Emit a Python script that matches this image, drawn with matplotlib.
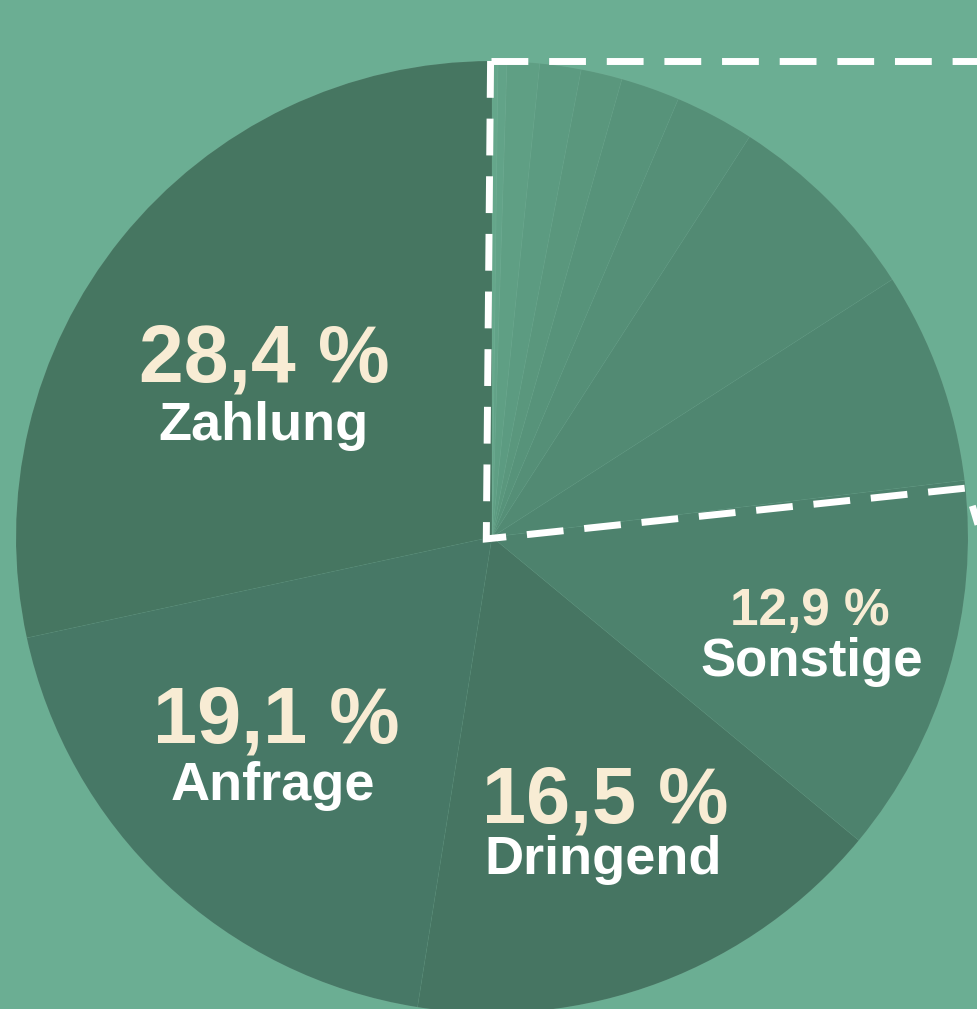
import matplotlib.pyplot as plt
import numpy as np

# Data: labelled categories (counterclockwise from 12 o'clock)
categories = ["Zahlung", "Anfrage", "Dringend", "Sonstige"]
shares = [28.4, 19.1, 16.5, 12.9]
# unlabelled small slices inside the dashed box, continuing counterclockwise
detail_shares = [7.2, 6.8, 2.7, 2.0, 1.4, 1.4, 1.1, 0.3, 0.2]

# Styling
BG = "#6bae93"
main_colors = ["#467661", "#477866", "#467562", "#4d826d"]
detail_colors = ["#4f8670", "#528a73", "#558f77", "#57937a", "#5a977d",
                 "#5c9b81", "#5f9f84", "#62a388", "#65a78b"]
NUM_COLOR = "#f8ecd4"
NAME_COLOR = "#ffffff"
FONT = ["Liberation Sans", "DejaVu Sans"]

# label layout (data units, pie radius = 1): number baseline, name baseline
label_pos = {
    "Zahlung": ((-0.479, 0.326), (-0.481, 0.203), 58, 39),
    "Anfrage": ((-0.454, -0.431), (-0.460, -0.552), 57, 39),
    "Dringend": ((0.237, -0.599), (0.233, -0.707), 57, 39),
    "Sonstige": ((0.668, -0.185), (0.672, -0.292), 37, 38),
}


def fmt_pct(v):
    return f"{v:.1f}".replace(".", ",") + " %"


def main():
    fig = plt.figure(figsize=(9.77, 10.09), dpi=100, facecolor=BG)
    ax = fig.add_axes([0, 0, 1, 1])
    ax.set_facecolor(BG)

    wedges, _ = ax.pie(
        shares + detail_shares,
        colors=main_colors + detail_colors,
        startangle=90,
        counterclock=True,
        radius=1.0,
        wedgeprops=dict(linewidth=0.6, edgecolor=(1, 1, 1, 0.035)),
    )

    # crop: pie centre sits at (492, 537) px with radius 476 px
    ax.set_xlim(-492 / 476, 485 / 476)
    ax.set_ylim(-472 / 476, 537 / 476)
    ax.set_aspect("equal")
    ax.axis("off")

    # dashed box around the small slices
    theta = np.deg2rad(wedges[len(shares)].theta1 % 360 - 0.95)
    corner = np.array([1.003 * np.cos(theta), 1.003 * np.sin(theta)])
    top = [(1.3, 1.0), (-0.003, 1.0)]
    bottom = [(-0.003, 1.0), (-0.012, -0.004), tuple(corner),
              tuple(corner + np.array([0.05, -0.165]))]
    dash = (0, (5.3, 3.0))
    for path in (top[::-1], bottom):
        xs, ys = zip(*path)
        ax.plot(xs, ys, color="white", lw=5, linestyle=dash,
                solid_joinstyle="miter", dash_joinstyle="miter",
                dash_capstyle="butt", clip_on=True, zorder=5)

    # labels
    for name, value in zip(categories, shares):
        (nx, ny), (mx, my), num_size, name_size = label_pos[name]
        ax.text(nx, ny, fmt_pct(value), ha="center", va="baseline",
                fontsize=num_size, fontweight="bold", color=NUM_COLOR,
                family=FONT, zorder=6)
        ax.text(mx, my, name, ha="center", va="baseline",
                fontsize=name_size, fontweight="bold", color=NAME_COLOR,
                family=FONT, zorder=6)

    fig.savefig("out.png", dpi=100, facecolor=BG)


if __name__ == "__main__":
    main()
